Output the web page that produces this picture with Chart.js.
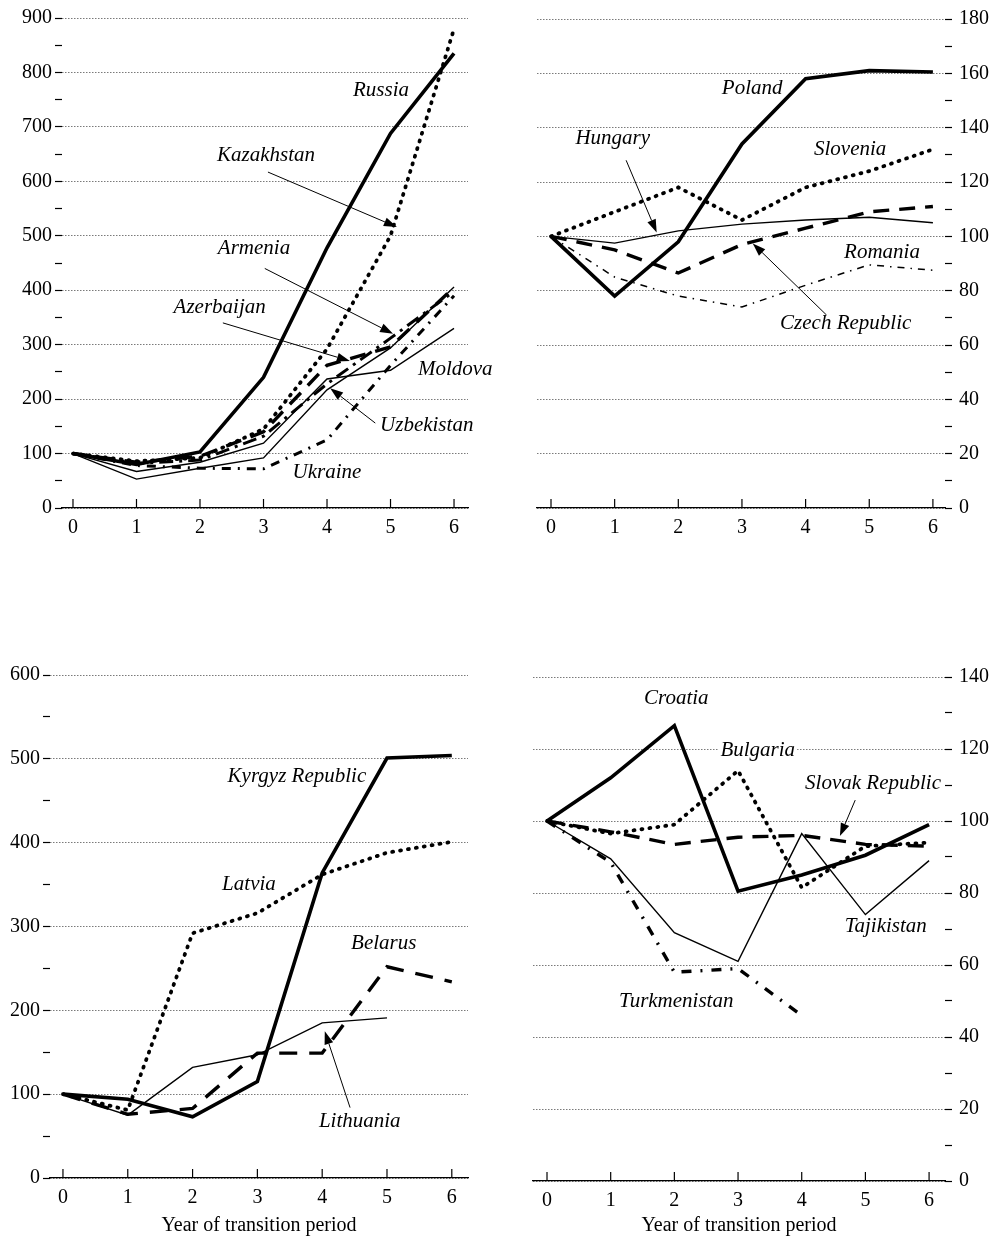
<!DOCTYPE html>
<html>
<head>
<meta charset="utf-8">
<script src="https://cdn.jsdelivr.net/npm/chart.js@4.4.1/dist/chart.umd.min.js"></script>
<style>
  html, body { margin: 0; padding: 0; background: #fff; }
  body { width: 993px; height: 1240px; position: relative; overflow: hidden; }
  canvas { position: absolute; }
</style>
</head>
<body>
<canvas id="tl" width="496" height="540" style="left:0;top:0"></canvas>
<canvas id="tr" width="496" height="540" style="left:497px;top:0"></canvas>
<canvas id="bl" width="496" height="600" style="left:0;top:640px"></canvas>
<canvas id="br" width="496" height="600" style="left:497px;top:640px"></canvas>
<script>
// year of transition period
const years = [0, 1, 2, 3, 4, 5, 6];

// top left panel
const tlTicks = [0, 100, 200, 300, 400, 500, 600, 700, 800, 900];
const russia = [100, 80, 103, 240, 478, 688, 835];
const kazakhstan = [100, 86, 92, 145, 292, 500, 880];
const armenia = [100, 82, 88, 132, 228, 312, 398];
const azerbaijan = [100, 84, 95, 140, 262, 296, 405];
const moldova = [100, 67, 84, 119, 237, 253, 330];
const uzbekistan = [100, 53, 73, 92, 217, 294, 406];
const ukraine = [100, 78, 73, 72, 125, 262, 390];

// top right panel
const trTicks = [0, 20, 40, 60, 80, 100, 120, 140, 160, 180];
const poland = [100, 78, 98, 134, 158, 161, 160.5];
const slovenia = [100, 109, 118, 106, 118, 124, 132];
const hungary = [100, 97.5, 102, 104.5, 106, 107, 105];
const czech = [100, 95, 86.5, 97, 103, 109, 111];
const romania = [100, 85, 78, 74, 82, 89.5, 87.5];

// bottom left panel
const blTicks = [0, 100, 200, 300, 400, 500, 600];
const kyrgyz = [100, 94, 73, 115, 364, 501, 504];
const latvia = [100, 81, 292, 316, 362, 388, 401];
const belarus = [100, 76, 83, 149, 149, 252, 234];
const lithuania = [100, 75, 132, 147, 185, 191];

// bottom right panel
const brTicks = [0, 20, 40, 60, 80, 100, 120, 140];
const croatia = [100, 112, 126.5, 80.5, 85, 90.5, 99];
const bulgaria = [100, 96.5, 99, 114, 81.5, 93, 94];
const slovak = [100, 97, 93.5, 95.5, 96, 93.5, 93];
const tajikistan = [100, 89.5, 69, 61, 96.5, 74, 89];
const turkmenistan = [100, 88.5, 58, 59, 46];

Chart.defaults.font.family = '"Liberation Serif", "Times New Roman", serif';
Chart.defaults.color = '#000';

// line styles
const SOLID = { w: 3.6 };
const THIN = { w: 1.4 };
const DOTS = { w: 3.8, dash: [1, 7], cap: 'round' };
const DASH = { w: 3.4, dash: [16, 10] };
const DASHDOT = { w: 3, dash: [9, 7, 2, 7] };
const LONGDASHDOT = { w: 3, dash: [14, 6, 3, 6] };
const THINDASHDOT = { w: 1.5, dash: [7, 6, 1.5, 6] };

// labels, arrows and x ticks
const notes = {
  id: 'notes',
  beforeDatasetsDraw(chart, args, opts) {
    const { ctx } = chart;
    const x = chart.scales.x, y = chart.scales.y;
    ctx.save();
    ctx.font = 'italic 21px "Liberation Serif"';
    ctx.textAlign = 'center';
    ctx.textBaseline = 'middle';
    (opts.labels || []).forEach(l => {
      const px = x.getPixelForValue(l.at[0]), py = y.getPixelForValue(l.at[1]);
      const w = ctx.measureText(l.text).width;
      ctx.fillStyle = '#fff';
      ctx.fillRect(px - w / 2 - 2, py - 10, w + 4, 20);
      ctx.fillStyle = '#000';
      ctx.fillText(l.text, px, py);
    });
    ctx.restore();
  },
  afterDatasetsDraw(chart, args, opts) {
    const { ctx, chartArea } = chart;
    const x = chart.scales.x, y = chart.scales.y;
    ctx.save();
    ctx.strokeStyle = '#000';
    ctx.fillStyle = '#000';
    ctx.lineWidth = 1.2;
    years.forEach(v => {
      const px = x.getPixelForValue(v);
      ctx.beginPath();
      ctx.moveTo(px, chartArea.bottom);
      ctx.lineTo(px, chartArea.bottom - 9);
      ctx.stroke();
    });
    ctx.lineWidth = 1;
    (opts.arrows || []).forEach(a => {
      const x1 = x.getPixelForValue(a.from[0]), y1 = y.getPixelForValue(a.from[1]);
      const x2 = x.getPixelForValue(a.to[0]), y2 = y.getPixelForValue(a.to[1]);
      const ang = Math.atan2(y2 - y1, x2 - x1);
      const hl = 13, hw = 4.5;
      const bx = x2 - hl * Math.cos(ang), by = y2 - hl * Math.sin(ang);
      ctx.beginPath();
      ctx.moveTo(x1, y1);
      ctx.lineTo(bx, by);
      ctx.stroke();
      ctx.beginPath();
      ctx.moveTo(x2, y2);
      ctx.lineTo(bx + hw * Math.sin(ang), by - hw * Math.cos(ang));
      ctx.lineTo(bx - hw * Math.sin(ang), by + hw * Math.cos(ang));
      ctx.closePath();
      ctx.fill();
    });
    ctx.restore();
  }
};

function panel(id, o) {
  const minor = [];
  for (let i = 0; i < o.ticks.length - 1; i++) minor.push((o.ticks[i] + o.ticks[i + 1]) / 2);
  const all = o.ticks.concat(minor).sort((a, b) => a - b);
  return new Chart(document.getElementById(id), {
    type: 'line',
    data: {
      datasets: o.series.map(s => ({
        data: s.values.map((v, i) => ({ x: years[i], y: v })),
        borderColor: '#000',
        borderWidth: s.style.w,
        borderDash: s.style.dash || [],
        borderCapStyle: s.style.cap || 'butt',
        borderJoinStyle: 'miter',
        pointRadius: 0,
        tension: 0,
        fill: false
      }))
    },
    options: {
      responsive: false,
      animation: false,
      events: [],
      layout: { padding: o.padding },
      plugins: {
        legend: { display: false },
        tooltip: { enabled: false },
        notes: { labels: o.labels, arrows: o.arrows }
      },
      scales: {
        x: {
          type: 'linear',
          min: o.xmin,
          max: o.xmax,
          afterBuildTicks: ax => { ax.ticks = years.map(v => ({ value: v })); },
          afterFit: ax => { ax.height = o.xh; },
          grid: { display: false },
          border: { display: true, color: '#000', width: 1.3 },
          ticks: { padding: 0, font: { size: 20 }, autoSkip: false, maxRotation: 0, callback: v => String(v) },
          title: o.title
            ? { display: true, text: o.title, font: { size: 20 }, padding: { top: 0, bottom: 2 } }
            : { display: false }
        },
        y: {
          position: o.ypos,
          min: 0,
          max: o.ticks[o.ticks.length - 1],
          afterBuildTicks: ax => { ax.ticks = all.map(v => ({ value: v })); },
          afterFit: ax => { ax.width = o.yw; },
          grid: {
            color: c => (c.tick && o.ticks.includes(c.tick.value)) ? '#7a7a7a' : 'rgba(0,0,0,0)',
            lineWidth: 1,
            tickLength: 7,
            tickColor: '#000',
            tickWidth: 1.2
          },
          border: { display: false, dash: [1.5, 1.5] },
          ticks: {
            autoSkip: false,
            padding: o.ypos === 'left' ? 3 : 7,
            font: { size: 20 },
            callback: v => o.ticks.includes(v) ? String(v) : ''
          }
        }
      }
    },
    plugins: [notes]
  });
}

panel('tl', {
  ticks: tlTicks, ypos: 'left', yw: 62, xh: 32, xmin: -0.173, xmax: 6.22,
  padding: { left: 0, right: 28, top: 18, bottom: 0 },
  series: [
    { values: moldova, style: THIN },
    { values: uzbekistan, style: THIN },
    { values: ukraine, style: DASHDOT },
    { values: armenia, style: LONGDASHDOT },
    { values: azerbaijan, style: DASH },
    { values: kazakhstan, style: DOTS },
    { values: russia, style: SOLID }
  ],
  labels: [
    { text: 'Russia', at: [4.85, 766] },
    { text: 'Kazakhstan', at: [3.04, 648] },
    { text: 'Armenia', at: [2.85, 476] },
    { text: 'Azerbaijan', at: [2.31, 369] },
    { text: 'Moldova', at: [6.02, 255] },
    { text: 'Uzbekistan', at: [5.57, 152] },
    { text: 'Ukraine', at: [4.0, 66] }
  ],
  arrows: [
    { from: [3.07, 617], to: [5.1, 516] },
    { from: [3.02, 440], to: [5.04, 320] },
    { from: [2.36, 340], to: [4.36, 270] },
    { from: [4.76, 156], to: [4.05, 220] }
  ]
});

panel('tr', {
  ticks: trTicks, ypos: 'right', yw: 48, xh: 32, xmin: -0.22, xmax: 6.19,
  padding: { left: 40, right: 0, top: 18, bottom: 0 },
  series: [
    { values: hungary, style: THIN },
    { values: romania, style: THINDASHDOT },
    { values: czech, style: DASH },
    { values: slovenia, style: DOTS },
    { values: poland, style: SOLID }
  ],
  labels: [
    { text: 'Poland', at: [3.16, 154.3] },
    { text: 'Hungary', at: [0.97, 135.9] },
    { text: 'Slovenia', at: [4.7, 131.9] },
    { text: 'Romania', at: [5.2, 94] },
    { text: 'Czech Republic', at: [4.63, 68] }
  ],
  arrows: [
    { from: [1.18, 128], to: [1.66, 101.4] },
    { from: [4.33, 71], to: [3.17, 97.4] }
  ]
});

panel('bl', {
  ticks: blTicks, ypos: 'left', yw: 50, xh: 62, xmin: -0.2, xmax: 6.25,
  padding: { left: 0, right: 28, top: 35, bottom: 0 },
  title: 'Year of transition period',
  series: [
    { values: lithuania, style: THIN },
    { values: belarus, style: { w: 3.4, dash: [18, 12] } },
    { values: latvia, style: DOTS },
    { values: kyrgyz, style: SOLID }
  ],
  labels: [
    { text: 'Kyrgyz Republic', at: [3.61, 479.5] },
    { text: 'Latvia', at: [2.87, 350.7] },
    { text: 'Belarus', at: [4.95, 280.3] },
    { text: 'Lithuania', at: [4.58, 68] }
  ],
  arrows: [
    { from: [4.43, 84], to: [4.04, 175] }
  ]
});

panel('br', {
  ticks: brTicks, ypos: 'right', yw: 48, xh: 59, xmin: -0.22, xmax: 6.25,
  padding: { left: 36, right: 0, top: 37, bottom: 0 },
  title: 'Year of transition period',
  series: [
    { values: tajikistan, style: THIN },
    { values: turkmenistan, style: { w: 3.4, dash: [10, 9, 2, 9] } },
    { values: slovak, style: DASH },
    { values: bulgaria, style: DOTS },
    { values: croatia, style: SOLID }
  ],
  labels: [
    { text: 'Croatia', at: [2.03, 133.9] },
    { text: 'Bulgaria', at: [3.31, 119.7] },
    { text: 'Slovak Republic', at: [5.12, 110.3] },
    { text: 'Tajikistan', at: [5.32, 70.8] },
    { text: 'Turkmenistan', at: [2.03, 50] }
  ],
  arrows: [
    { from: [4.84, 105.8], to: [4.6, 95.8] }
  ]
});
</script>
</body>
</html>
